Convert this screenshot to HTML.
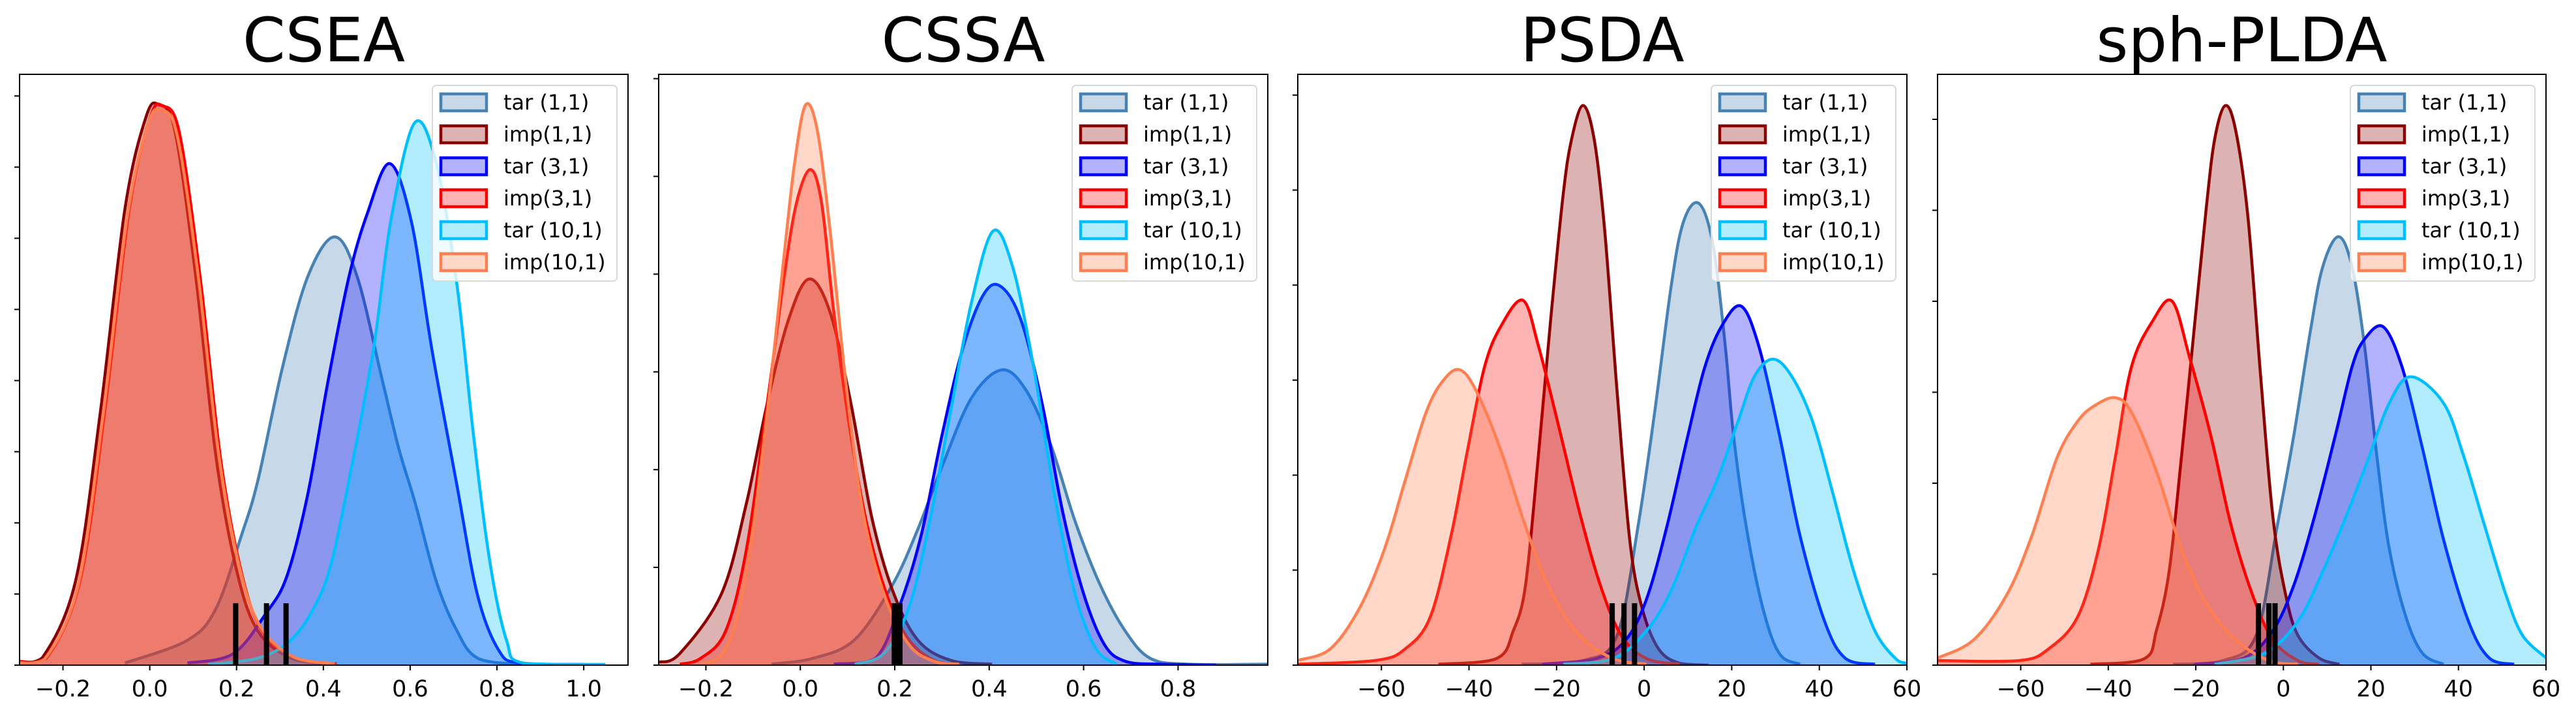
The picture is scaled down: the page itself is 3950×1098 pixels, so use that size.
<!DOCTYPE html>
<html><head><meta charset="utf-8"><style>
html,body{margin:0;padding:0;background:#fff;}
svg{display:block;font-family:"DejaVu Sans","Liberation Sans",sans-serif;}
</style></head><body>
<svg id="fig" width="3950" height="1098" viewBox="0 0 3950 1098" xmlns="http://www.w3.org/2000/svg"></svg>
<script>
// ---- shared ----
const seriesLabels = ["tar (1,1)","imp(1,1)","tar (3,1)","imp(3,1)","tar (10,1)","imp(10,1)"];
const seriesColors = ["#4682b4","#8b0000","#0000ff","#ff0000","#00bfff","#ff7f50"];
const panelTitles = ["CSEA","CSSA","PSDA","sph-PLDA"];

// ---- CSEA ----
const cseaXTicks = [-0.2,0,0.2,0.4,0.6,0.8,1.0];
const cseaTickLabels = ["−0.2","0.0","0.2","0.4","0.6","0.8","1.0"];
const cseaThresholds = [0.198,0.269,0.314];
const cseaTar11X = [-0.057,0.087,0.153,0.211,0.249,0.306,0.364,0.426,0.478,0.536,0.574,0.612,0.660,0.708,0.755,0.851];
const cseaTar11Y = [0.03,0.35,0.8,1.82,2.59,4.19,5.46,6.02,5.46,4.0,3.04,2.27,1.18,0.48,0.1,0.01];
const cseaImp11X = [-0.3,-0.248,-0.171,-0.114,-0.057,-0.009,0.020,0.058,0.106,0.153,0.201,0.249,0.325,0.421];
const cseaImp11Y = [0.05,0.1,1.18,3.55,6.42,7.7,7.88,7.51,5.46,2.91,1.31,0.48,0.1,0.02];
const cseaTar31X = [0.087,0.192,0.268,0.316,0.364,0.411,0.459,0.502,0.553,0.603,0.650,0.708,0.755,0.803,0.851,1.0];
const cseaTar31Y = [0.03,0.16,0.73,1.25,2.4,4.0,5.46,6.36,7.05,6.23,4.44,2.52,0.99,0.22,0.03,0.01];
const cseaImp31X = [-0.3,-0.238,-0.161,-0.104,-0.047,0.001,0.030,0.068,0.116,0.163,0.211,0.259,0.335,0.431];
const cseaImp31Y = [0.05,0.1,1.18,3.55,6.42,7.7,7.86,7.49,5.46,2.91,1.31,0.48,0.1,0.02];
const cseaTar101X = [0.134,0.249,0.325,0.383,0.421,0.469,0.517,0.555,0.610,0.660,0.708,0.746,0.784,0.822,0.860,1.05];
const cseaTar101Y = [0.01,0.1,0.35,0.86,1.5,2.91,4.5,6.23,7.62,7.06,5.34,3.23,1.44,0.35,0.03,0.01];
const cseaImp101X = [-0.3,-0.243,-0.166,-0.109,-0.052,-0.004,0.025,0.063,0.111,0.158,0.206,0.254,0.330,0.426];
const cseaImp101Y = [0.03,0.08,1.1,3.45,6.3,7.6,7.8,7.45,5.5,3.0,1.4,0.55,0.12,0.02];

// ---- CSSA ----
const cssaXTicks = [-0.2,0,0.2,0.4,0.6,0.8];
const cssaTickLabels = ["−0.2","0.0","0.2","0.4","0.6","0.8"];
const cssaThresholds = [0.199,0.205,0.211];
const cssaTar11X = [-0.061,0.027,0.115,0.195,0.248,0.300,0.362,0.426,0.477,0.530,0.582,0.635,0.688,0.741,0.820,0.99];
const cssaTar11Y = [0.01,0.07,0.26,0.82,1.38,2.03,2.73,3.02,2.82,2.26,1.47,0.82,0.35,0.07,0.01,0.01];
const cssaImp11X = [-0.299,-0.255,-0.167,-0.114,-0.070,-0.026,0.018,0.063,0.107,0.151,0.195,0.248,0.318,0.406];
const cssaImp11Y = [0.03,0.12,0.73,1.66,2.68,3.52,3.95,3.61,2.68,1.52,0.77,0.26,0.05,0.01];
const cssaTar31X = [0.071,0.159,0.212,0.256,0.300,0.344,0.389,0.426,0.468,0.512,0.556,0.600,0.644,0.688,0.759,0.88];
const cssaTar31Y = [0.01,0.07,0.63,1.33,2.35,3.24,3.80,3.87,3.52,2.68,1.56,0.73,0.21,0.04,0.01,0.0];
const cssaImp31X = [-0.255,-0.211,-0.158,-0.114,-0.070,-0.034,-0.008,0.021,0.045,0.071,0.107,0.142,0.186,0.230,0.283,0.336];
const cssaImp31Y = [0.01,0.07,0.35,1.19,2.68,3.98,4.73,5.07,4.73,3.61,2.35,1.42,0.68,0.26,0.05,0.01];
const cssaTar101X = [0.115,0.177,0.230,0.274,0.318,0.362,0.408,0.450,0.494,0.538,0.582,0.626,0.670];
const cssaTar101Y = [0.01,0.12,0.59,1.47,2.59,3.70,4.44,4.07,3.05,1.75,0.73,0.17,0.01];
const cssaImp101X = [-0.211,-0.158,-0.114,-0.070,-0.034,-0.012,0.011,0.036,0.063,0.098,0.133,0.177,0.230,0.283,0.336];
const cssaImp101Y = [0.01,0.17,0.96,2.59,4.21,5.14,5.73,5.47,4.45,2.82,1.56,0.73,0.21,0.04,0.01];

// ---- PSDA ----
const psdaXTicks = [-60,-40,-20,0,20,40,60];
const psdaTickLabels = ["−60","−40","−20","0","20","40","60"];
const psdaThresholds = [-7.3,-4.6,-2.2];
const psdaTar11X = [-28.0,-13.8,-6.2,-1.4,2.4,6.2,9.0,12.5,15.7,18.5,20.4,23.3,27.1,30.9,35.6];
const psdaTar11Y = [0.01,0.05,0.31,1.46,2.66,4.0,4.67,4.86,4.43,3.37,2.42,1.46,0.60,0.12,0.01];
const psdaImp11X = [-47.0,-33.7,-29.9,-27.1,-24.2,-21.4,-18.5,-16.6,-13.96,-11.4,-9.0,-6.2,-3.3,-0.47,3.3,8.1,14.7];
const psdaImp11Y = [0.01,0.07,0.36,0.84,2.18,3.61,4.95,5.53,5.89,5.53,4.57,2.89,1.32,0.60,0.17,0.02,0.0];
const psdaTar31X = [-23.3,-10.9,-4.3,0.5,5.2,10.0,13.8,17.6,22.1,26.1,30.9,35.6,41.3,46.0,52.7];
const psdaTar31Y = [0.01,0.07,0.26,0.69,1.46,2.42,3.13,3.56,3.78,3.37,2.42,1.36,0.45,0.07,0.01];
const psdaImp31X = [-79.3,-61.2,-54.6,-48.9,-44.1,-40.3,-36.5,-32.8,-27.7,-24.2,-19.5,-14.7,-10.0,-5.2,0.5,8.1];
const psdaImp31Y = [0.01,0.05,0.17,0.50,1.36,2.27,3.13,3.56,3.84,3.37,2.51,1.60,0.84,0.31,0.07,0.01];
const psdaTar101X = [-18.5,-7.1,0.5,6.2,11.9,16.6,21.4,25.2,29.4,33.7,38.5,43.2,47.9,52.7,57.4,60];
const psdaTar101Y = [0.01,0.07,0.36,0.79,1.46,1.94,2.56,3.04,3.22,3.04,2.56,1.79,0.98,0.36,0.07,0.02];
const psdaImp101X = [-79.1,-71.7,-65.0,-59.3,-54.6,-49.8,-46.0,-42.2,-38.4,-32.8,-27.1,-21.4,-14.7,-7.1,0.5];
const psdaImp101Y = [0.05,0.17,0.60,1.22,1.94,2.66,2.99,3.11,2.89,2.27,1.46,0.79,0.31,0.07,0.01];

// ---- sph-PLDA ----
const sphXTicks = [-60,-40,-20,0,20,40,60];
const sphTickLabels = ["−60","−40","−20","0","20","40","60"];
const sphThresholds = [-5.7,-3.3,-1.9];
const sphTar11X = [-25.2,-13.8,-6.2,-1.4,2.4,6.2,9.0,12.6,15.7,18.5,21.4,24.2,28.0,31.8,36.6];
const sphTar11Y = [0.01,0.05,0.33,1.53,2.53,3.68,4.38,4.71,4.38,3.53,2.28,1.28,0.53,0.13,0.01];
const sphImp11X = [-44.1,-31.8,-29.0,-26.1,-23.3,-20.4,-17.6,-15.7,-13.3,-10.9,-8.1,-5.2,-2.4,0.5,3.3,8.1,12.8];
const sphImp11Y = [0.01,0.07,0.38,1.03,2.28,3.68,5.03,5.78,6.15,5.88,4.93,3.18,1.63,0.78,0.33,0.08,0.01];
const sphTar31X = [-20.4,-9.0,-2.4,2.4,7.1,11.9,15.7,18.5,22.8,27.1,31.8,36.6,42.3,47.0,52.7];
const sphTar31Y = [0.01,0.08,0.38,0.88,1.63,2.53,3.28,3.58,3.72,3.28,2.38,1.38,0.48,0.08,0.01];
const sphImp31X = [-78.9,-60.3,-53.6,-47.0,-42.2,-38.4,-34.7,-29.9,-25.4,-21.4,-16.6,-11.9,-7.1,-2.4,3.3,8.1];
const sphImp31Y = [0.05,0.05,0.18,0.53,1.28,2.28,3.28,3.78,4.0,3.38,2.53,1.53,0.78,0.28,0.05,0.01];
const sphTar101X = [-15.7,-4.3,3.3,9.0,14.7,19.5,24.2,29.1,36.6,41.3,46.0,50.8,54.6,60];
const sphTar101Y = [0.01,0.13,0.48,1.03,1.68,2.28,2.88,3.17,2.88,2.28,1.53,0.78,0.33,0.08];
const sphImp101X = [-78.9,-70.7,-63.1,-57.4,-51.7,-47.0,-43.2,-38.4,-34.7,-29.0,-23.3,-17.6,-10.9,-3.3,3.3];
const sphImp101Y = [0.08,0.28,0.78,1.43,2.28,2.68,2.85,2.94,2.78,2.13,1.28,0.68,0.28,0.05,0.01];

const NS = "http://www.w3.org/2000/svg";
const fig = document.getElementById("fig");
function mk(tag, attrs, parent){ const e=document.createElementNS(NS,tag); for(const k in attrs) e.setAttribute(k,attrs[k]); (parent||fig).appendChild(e); return e; }

const panels = [
 {left:30,right:963,xmin:-0.3,xmax:1.102,tickPx:109.1,xt:cseaXTicks,xl:cseaTickLabels,th:cseaThresholds,
  xs:[cseaTar11X,cseaImp11X,cseaTar31X,cseaImp31X,cseaTar101X,cseaImp101X],ys:[cseaTar11Y,cseaImp11Y,cseaTar31Y,cseaImp31Y,cseaTar101Y,cseaImp101Y]},
 {left:1010,right:1944,xmin:-0.3,xmax:0.99,tickPx:149.9,xt:cssaXTicks,xl:cssaTickLabels,th:cssaThresholds,
  xs:[cssaTar11X,cssaImp11X,cssaTar31X,cssaImp31X,cssaTar101X,cssaImp101X],ys:[cssaTar11Y,cssaImp11Y,cssaTar31Y,cssaImp31Y,cssaTar101Y,cssaImp101Y]},
 {left:1990,right:2924,xmin:-79.1,xmax:60,tickPx:145.7,xt:psdaXTicks,xl:psdaTickLabels,th:psdaThresholds,
  xs:[psdaTar11X,psdaImp11X,psdaTar31X,psdaImp31X,psdaTar101X,psdaImp101X],ys:[psdaTar11Y,psdaImp11Y,psdaTar31Y,psdaImp31Y,psdaTar101Y,psdaImp101Y]},
 {left:2971,right:3904,xmin:-79,xmax:60,tickPx:139.5,xt:sphXTicks,xl:sphTickLabels,th:sphThresholds,
  xs:[sphTar11X,sphImp11X,sphTar31X,sphImp31X,sphTar101X,sphImp101X],ys:[sphTar11Y,sphImp11Y,sphTar31Y,sphImp31Y,sphTar101Y,sphImp101Y]}
];
const TOP=114, BOT=1020;

function smooth(pts){
  let d="M"+pts[0][0].toFixed(1)+","+pts[0][1].toFixed(1);
  for(let i=0;i<pts.length-1;i++){
    const p0=pts[Math.max(i-1,0)],p1=pts[i],p2=pts[i+1],p3=pts[Math.min(i+2,pts.length-1)];
    let c1x=p1[0]+(p2[0]-p0[0])/6, c1y=p1[1]+(p2[1]-p0[1])/6;
    let c2x=p2[0]-(p3[0]-p1[0])/6, c2y=p2[1]-(p3[1]-p1[1])/6;
    c1y=Math.min(c1y,BOT); c2y=Math.min(c2y,BOT);
    d+=" C"+c1x.toFixed(1)+","+c1y.toFixed(1)+" "+c2x.toFixed(1)+","+c2y.toFixed(1)+" "+p2[0].toFixed(1)+","+p2[1].toFixed(1);
  }
  return d;
}

panels.forEach((P,pi)=>{
  const g=mk("g",{});
  
  
  const sx=v=>P.left+(v-P.xmin)/(P.xmax-P.xmin)*(P.right-P.left);
  const sy=v=>BOT-v*P.tickPx;
  const cid="clip"+pi;
  const cp=mk("clipPath",{id:cid},g); mk("rect",{x:P.left,y:TOP,width:P.right-P.left,height:BOT-TOP},cp);
  const plot=mk("g",{"clip-path":"url(#"+cid+")"},g);
  P.xs.forEach((xa,si)=>{
    const pts=xa.map((x,i)=>[sx(x),sy(P.ys[si][i])]);
    const line=smooth(pts);
    const area=mk("path",{d:line+" L"+pts[pts.length-1][0].toFixed(1)+","+BOT+" L"+pts[0][0].toFixed(1)+","+BOT+" Z",fill:seriesColors[si],"fill-opacity":0.3,stroke:"none"},plot);
    
    
    const ln=mk("path",{d:line,fill:"none",stroke:seriesColors[si],"stroke-width":4.5,"stroke-linejoin":"round"},plot);
    
    
  });
  P.th.forEach((t,ti)=>{
    const b=mk("rect",{x:sx(t)-4,y:925,width:8,height:BOT-925,fill:"#000"},plot);
    
    
  });
  const fr=mk("rect",{x:P.left,y:TOP,width:P.right-P.left,height:BOT-TOP,fill:"none",stroke:"#000","stroke-width":2},g);
  
  
  P.xt.forEach((t,ti)=>{
    const x=sx(t);
    mk("line",{x1:x,y1:BOT,x2:x,y2:BOT+8,stroke:"#000","stroke-width":2},g);
    const tx=mk("text",{x:x,y:1068,"font-size":35,"text-anchor":"middle",fill:"#000"},g);
    tx.textContent=P.xl[ti];
    
    
  });
  const ymax=(BOT-TOP)/P.tickPx;
  for(let k=0;k<=Math.floor(ymax);k++){
    const y=sy(k); mk("line",{x1:P.left-8,y1:y,x2:P.left,y2:y,stroke:"#000","stroke-width":2},g);
  }
  const tt=mk("text",{x:(P.left+P.right)/2,y:94,"font-size":94,"text-anchor":"middle",fill:"#000"},g);
  tt.textContent=panelTitles[pi];
  
  
  // legend
  const lx=P.right-17-283, ly=131;
  const lg=mk("g",{},g);
  
  
  mk("rect",{x:lx,y:ly,width:283,height:300,rx:6,fill:"#fff","fill-opacity":0.8,stroke:"#d8d8d8","stroke-width":2},lg);
  seriesLabels.forEach((lab,si)=>{
    const cy=157+si*49;
    mk("rect",{x:lx+13,y:cy-13,width:70,height:26,fill:"#fff",stroke:"none"},lg);
    const sw=mk("rect",{x:lx+13,y:cy-13,width:70,height:26,fill:seriesColors[si],"fill-opacity":0.3,stroke:seriesColors[si],"stroke-width":4.5},lg);
    
    
    const t=mk("text",{x:lx+109,y:cy+11,"font-size":32,fill:"#000"},lg);
    t.textContent=lab;
    
    
  });
});
</script>
</body></html>
